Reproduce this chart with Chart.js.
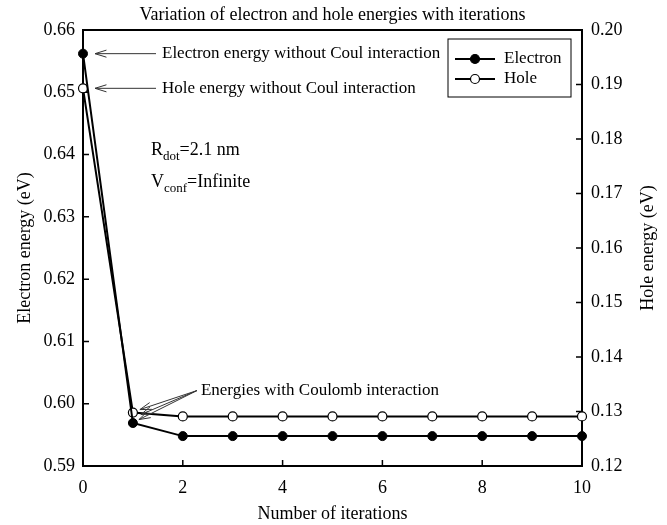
<!DOCTYPE html>
<html lang="en">
<head>
  <meta charset="UTF-8">
  <title>Variation of electron and hole energies with iterations</title>
  <script src="https://cdn.jsdelivr.net/npm/chart.js@4.4.2/dist/chart.umd.min.js"></script>
  <style>
    html, body { margin: 0; padding: 0; background: #fff; }
    #wrap { width: 667px; height: 525px; }
  </style>
</head>
<body>
  <div id="wrap"><canvas id="energyChart" width="667" height="525"></canvas></div>

  <script>
    const iterations = [0, 1, 2, 3, 4, 5, 6, 7, 8, 9, 10];
    const electronEnergy = [0.6562, 0.5969, 0.5948, 0.5948, 0.5948, 0.5948, 0.5948, 0.5948, 0.5948, 0.5948, 0.5948];
    const holeEnergy = [0.1893, 0.1298, 0.1291, 0.1291, 0.1291, 0.1291, 0.1291, 0.1291, 0.1291, 0.1291, 0.1291];
    const xTicks = [0, 2, 4, 6, 8, 10];
    const leftTicks = [0.59, 0.60, 0.61, 0.62, 0.63, 0.64, 0.65, 0.66];
    const rightTicks = [0.12, 0.13, 0.14, 0.15, 0.16, 0.17, 0.18, 0.19, 0.20];

    const serif = "'Liberation Serif', 'DejaVu Serif', serif";

    // frame, inward ticks, legend and the annotations
    const decorations = {
      id: 'decorations',
      beforeDatasetsDraw(chart) {
        const { ctx, chartArea: a, scales } = chart;
        ctx.save();
        ctx.strokeStyle = '#000';
        ctx.lineWidth = 1.5;
        const tl = 6;
        ctx.beginPath();
        leftTicks.forEach(v => { const y = scales.y.getPixelForValue(v); ctx.moveTo(a.left, y); ctx.lineTo(a.left + tl, y); });
        rightTicks.forEach(v => { const y = scales.y2.getPixelForValue(v); ctx.moveTo(a.right, y); ctx.lineTo(a.right - tl, y); });
        xTicks.forEach(v => { const x = scales.x.getPixelForValue(v); ctx.moveTo(x, a.bottom); ctx.lineTo(x, a.bottom - tl); });
        ctx.stroke();
        ctx.lineWidth = 2;
        ctx.strokeRect(a.left, a.top, a.right - a.left, a.bottom - a.top);

        ctx.fillStyle = '#000';
        ctx.font = '18px ' + serif;
        ctx.textAlign = 'center';
        ctx.textBaseline = 'middle';
        ctx.fillText('Variation of electron and hole energies with iterations', (a.left + a.right) / 2, 15);

        // right axis title reads bottom to top, like the left one
        ctx.translate(648, (a.top + a.bottom) / 2);
        ctx.rotate(-Math.PI / 2);
        ctx.fillText('Hole energy (eV)', 0, 0);
        ctx.restore();
      },
      afterDatasetsDraw(chart) {
        const { ctx, scales } = chart;
        const x = scales.x, y = scales.y, y2 = scales.y2;
        ctx.save();
        ctx.fillStyle = '#000';
        ctx.strokeStyle = '#333';
        ctx.lineWidth = 1;
        ctx.font = '17px ' + serif;
        ctx.textAlign = 'left';
        ctx.textBaseline = 'middle';

        // line from (x1,y1) with an open head at (x2,y2p)
        function arrow(x1, y1, x2, y2p) {
          const ang = Math.atan2(y2p - y1, x2 - x1);
          ctx.beginPath();
          ctx.moveTo(x1, y1);
          ctx.lineTo(x2, y2p);
          ctx.moveTo(x2 - 12 * Math.cos(ang - 0.3), y2p - 12 * Math.sin(ang - 0.3));
          ctx.lineTo(x2, y2p);
          ctx.lineTo(x2 - 12 * Math.cos(ang + 0.3), y2p - 12 * Math.sin(ang + 0.3));
          ctx.stroke();
        }

        const x0 = x.getPixelForValue(0);
        const ye = y.getPixelForValue(electronEnergy[0]);
        const yh = y2.getPixelForValue(holeEnergy[0]);
        arrow(x0 + 73, ye, x0 + 12, ye);
        ctx.fillText('Electron energy without Coul interaction', x0 + 79, ye);
        arrow(x0 + 73, yh, x0 + 12, yh);
        ctx.fillText('Hole energy without Coul interaction', x0 + 79, yh);

        // parameters
        ctx.font = '18px ' + serif;
        const px = x0 + 68;
        ctx.fillText('R', px, 150);
        let w = ctx.measureText('R').width;
        ctx.font = '13px ' + serif;
        ctx.fillText('dot', px + w, 157);
        let w2 = ctx.measureText('dot').width;
        ctx.font = '18px ' + serif;
        ctx.fillText('=2.1 nm', px + w + w2, 150);
        ctx.fillText('V', px, 182);
        w = ctx.measureText('V').width;
        ctx.font = '13px ' + serif;
        ctx.fillText('conf', px + w, 189);
        w2 = ctx.measureText('conf').width;
        ctx.font = '18px ' + serif;
        ctx.fillText('=Infinite', px + w + w2, 182);

        // Coulomb annotation
        const x1 = x.getPixelForValue(1);
        const yh1 = y2.getPixelForValue(holeEnergy[1]);
        const tx = x1 + 68, ty = yh1 - 22;
        arrow(tx - 4, ty, x1 + 7, yh1 - 3);
        arrow(tx - 4, ty, x1 + 8, yh1 + 2);
        arrow(tx - 4, ty, x1 + 6, yh1 + 7);
        ctx.font = '17px ' + serif;
        ctx.fillText('Energies with Coulomb interaction', tx, ty);

        // legend
        const lx = 448, ly = 39, lw = 123, lh = 58;
        ctx.strokeStyle = '#000';
        ctx.lineWidth = 1;
        ctx.strokeRect(lx, ly, lw, lh);
        const rows = [
          { label: 'Electron', fill: '#000', y: ly + 20 },
          { label: 'Hole', fill: '#fff', y: ly + 40 }
        ];
        rows.forEach(r => {
          ctx.lineWidth = 2;
          ctx.beginPath();
          ctx.moveTo(lx + 7, r.y);
          ctx.lineTo(lx + 47, r.y);
          ctx.stroke();
          ctx.beginPath();
          ctx.arc(lx + 27, r.y, 4.5, 0, Math.PI * 2);
          ctx.fillStyle = r.fill;
          ctx.fill();
          ctx.lineWidth = 1.2;
          ctx.stroke();
          ctx.fillStyle = '#000';
          ctx.font = '17px ' + serif;
          ctx.fillText(r.label, lx + 56, r.y);
        });
        ctx.restore();
      }
    };

    new Chart(document.getElementById('energyChart'), {
      type: 'line',
      data: {
        datasets: [{
          label: 'Electron',
          data: iterations.map((it, i) => ({ x: it, y: electronEnergy[i] })),
          yAxisID: 'y',
          borderColor: '#000',
          borderWidth: 2,
          pointRadius: 4.5,
          pointBackgroundColor: '#000',
          pointBorderColor: '#000',
          pointBorderWidth: 1,
          tension: 0,
          clip: false
        }, {
          label: 'Hole',
          data: iterations.map((it, i) => ({ x: it, y: holeEnergy[i] })),
          yAxisID: 'y2',
          borderColor: '#000',
          borderWidth: 2,
          pointRadius: 4.5,
          pointBackgroundColor: '#fff',
          pointBorderColor: '#000',
          pointBorderWidth: 1.2,
          tension: 0,
          clip: false
        }]
      },
      options: {
        responsive: false,
        animation: false,
        layout: { padding: { top: 30, left: 0, right: 0, bottom: 0 } },
        plugins: {
          legend: { display: false },
          tooltip: { enabled: false }
        },
        scales: {
          x: {
            type: 'linear',
            min: 0,
            max: 10,
            afterBuildTicks: s => { s.ticks = xTicks.map(v => ({ value: v })); },
            afterFit: s => { s.height = 59; },
            grid: { display: false, drawTicks: false },
            border: { display: false },
            ticks: { color: '#000', font: { family: serif, size: 18 }, padding: 11, maxRotation: 0 },
            title: { display: true, text: 'Number of iterations', color: '#000', font: { family: serif, size: 18 }, padding: { top: 0, bottom: 0 } }
          },
          y: {
            position: 'left',
            min: 0.59,
            max: 0.66,
            afterBuildTicks: s => { s.ticks = leftTicks.map(v => ({ value: v })); },
            afterFit: s => { s.width = 83; },
            grid: { display: false, drawTicks: false },
            border: { display: false },
            ticks: { color: '#000', font: { family: serif, size: 18 }, padding: 8, callback: v => v.toFixed(2) },
            title: { display: true, text: 'Electron energy (eV)', color: '#000', font: { family: serif, size: 18 }, padding: { top: 14, bottom: 0 } }
          },
          y2: {
            position: 'right',
            min: 0.12,
            max: 0.20,
            afterBuildTicks: s => { s.ticks = rightTicks.map(v => ({ value: v })); },
            afterFit: s => { s.width = 85; },
            grid: { display: false, drawTicks: false },
            border: { display: false },
            ticks: { color: '#000', font: { family: serif, size: 18 }, padding: 9, callback: v => v.toFixed(2) },
            title: { display: false }
          }
        }
      },
      plugins: [decorations]
    });
  </script>
</body>
</html>
